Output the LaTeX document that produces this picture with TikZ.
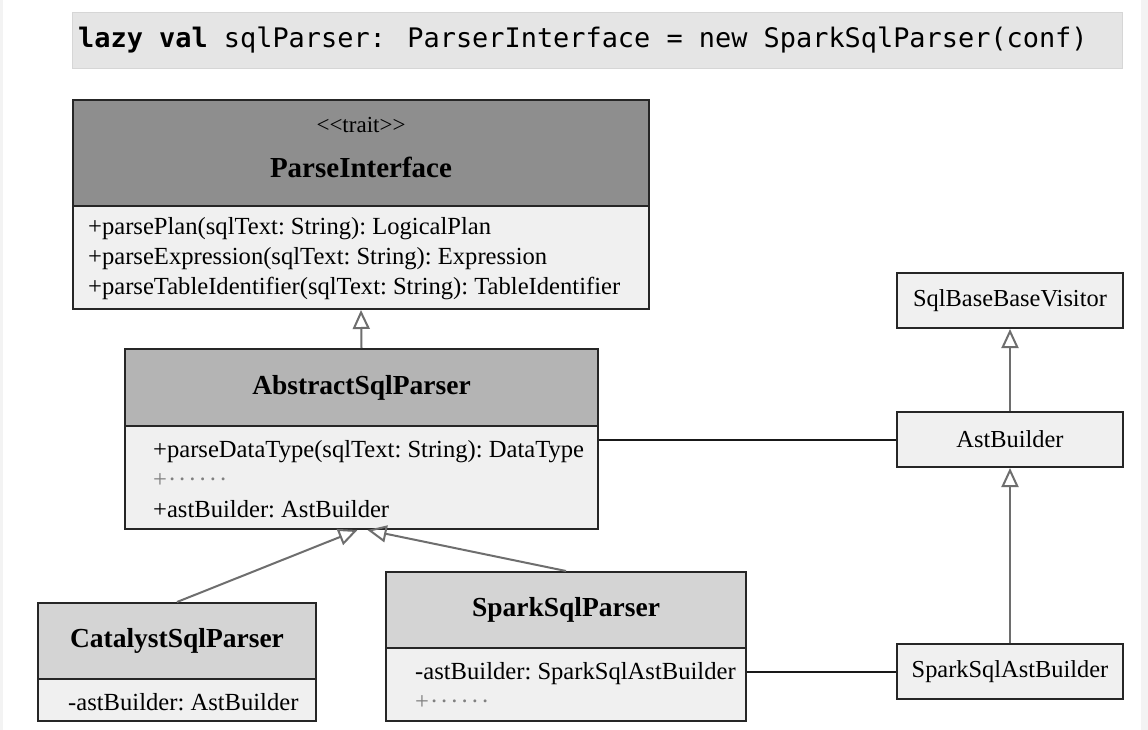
\documentclass[tikz,border=0pt]{standalone}
\usepackage{fontspec}
\setmainfont{Liberation Serif}
\newfontfamily\codefont{DejaVu Sans Mono}
\usetikzlibrary{arrows.meta,positioning,calc}
\definecolor{hdrdark}{HTML}{8E8E8E}
\definecolor{hdrmid}{HTML}{B4B4B4}
\definecolor{hdrlight}{HTML}{D4D4D4}
\definecolor{bodyfill}{HTML}{F0F0F0}
\definecolor{codefill}{HTML}{E5E5E5}
\definecolor{codeline}{HTML}{D6D6D6}
\definecolor{linkgray}{HTML}{6E6E6E}
\definecolor{edgegray}{HTML}{F3F3F3}
\newcommand{\onedot}{\textperiodcentered\kern2pt}
\newcommand{\moredots}{{\color{black!50}+\kern1pt\onedot\onedot\onedot\onedot\onedot\textperiodcentered}}
\tikzset{
    box/.style = {draw=black!85, line width=2pt, inner sep=0pt},
    head/.style = {box, font=\fontsize{27.5}{33}\selectfont\bfseries},
    body/.style = {box, fill=bodyfill},
    members/.style = {align=left, inner sep=0pt, anchor=west,
        font=\fontsize{24.6}{30}\selectfont\frenchspacing},
    simple/.style = {box, fill=bodyfill, minimum width=226, minimum height=55,
        font=\fontsize{24.4}{30}\selectfont},
    stereo/.style = {font=\fontsize{23}{26}\selectfont, inner sep=0pt},
    inherit/.style = {draw=linkgray, line width=2pt,
        -{Triangle[open, length=19pt, width=17pt, line width=2pt]}},
    assoc/.style = {draw=black!90, line width=2pt}
}

\begin{document}
\begin{tikzpicture}[x=1pt, y=-1pt]
    \useasboundingbox (0,0) rectangle (1148,730);
    \fill[white] (0,0) rectangle (1148,730);
    \fill[edgegray] (0,0) rectangle (3,730);
    \fill[edgegray] (1141,0) rectangle (1148,730);

    % declaration
    \node[draw=codeline, line width=1pt, fill=codefill, anchor=north west,
        minimum width=1050, minimum height=56] (decl) at (72,12) {};
    \node[anchor=west, inner sep=0pt, font={\codefont\fontsize{26.9}{32}\selectfont}] (decl-text)
        at ($(decl.west)+(6,0)$)
        {\textbf{lazy val} sqlParser: ParserInterface = new SparkSqlParser(conf)};

    % ParseInterface
    \node[head, fill=hdrdark, anchor=north west, minimum width=576, minimum height=106] (pi-head) at (72,99) {};
    \node[stereo] (pi-stereo) at ($(pi-head.north)+(0,26)$)
        {\textless\kern0pt\textless trait\textgreater\kern0pt\textgreater};
    \node[head, draw=none, font=\fontsize{29}{33}\selectfont\bfseries] (pi-title) at ($(pi-head.center)+(0,14)$) {ParseInterface};
    \node[body, anchor=north west, minimum width=576, minimum height=103] (pi-body) at (72,205) {};
    \node[members] (pi-ops) at ($(pi-body.west)+(16,1)$)
        {+parsePlan(sqlText: String): LogicalPlan\\
         +parseExpression(sqlText: String): Expression\\
         +parseTableIdentifier(sqlText: String): TableIdentifier};

    % AbstractSqlParser
    \node[head, fill=hdrmid, anchor=north west, minimum width=473, minimum height=77] (ab-head) at (124,348) {AbstractSqlParser};
    \node[body, anchor=north west, minimum width=473, minimum height=103] (ab-body) at (124,425) {};
    \node[members] (ab-ops) at ($(ab-body.west)+(29,2)$)
        {+parseDataType(sqlText: String): DataType\\
         \moredots\\
         +astBuilder: AstBuilder};

    % CatalystSqlParser
    \node[head, fill=hdrlight, anchor=north west, minimum width=278, minimum height=76] (ca-head) at (37,602) {CatalystSqlParser};
    \node[body, anchor=north west, minimum width=278, minimum height=42] (ca-body) at (37,678) {};
    \node[members] (ca-ops) at ($(ca-body.west)+(31,2)$) {-astBuilder: AstBuilder};

    % SparkSqlParser
    \node[head, fill=hdrlight, anchor=north west, minimum width=360, minimum height=76] (sp-head) at (385,571) {SparkSqlParser};
    \node[body, anchor=north west, minimum width=360, minimum height=73] (sp-body) at (385,647) {};
    \node[members] (sp-ops) at ($(sp-body.west)+(30,1)$)
        {-astBuilder: SparkSqlAstBuilder\\
         \moredots};

    % visitor side
    \node[simple, anchor=north west] (visitor) at (896,272) {SqlBaseBaseVisitor};
    \node[simple, anchor=north west] (ast) at (896,411) {AstBuilder};
    \node[simple, anchor=north west] (sast) at (896,643) {SparkSqlAstBuilder};

    % links
    \draw[inherit] (ab-head.north) -- (pi-body.south);
    \draw[inherit] (ca-head.north) -- ($(ab-body.south)+(-4,0)$);
    \draw[inherit] (sp-head.north) -- ($(ab-body.south)+(6,0)$);
    \draw[inherit] (ast.north) -- (visitor.south);
    \draw[inherit] (sast.north) -- (ast.south);
    \draw[assoc] (ast.west) -- (ast.west -| ab-body.east);
    \draw[assoc] (sast.west) -- (sast.west -| sp-body.east);
\end{tikzpicture}
\end{document}
